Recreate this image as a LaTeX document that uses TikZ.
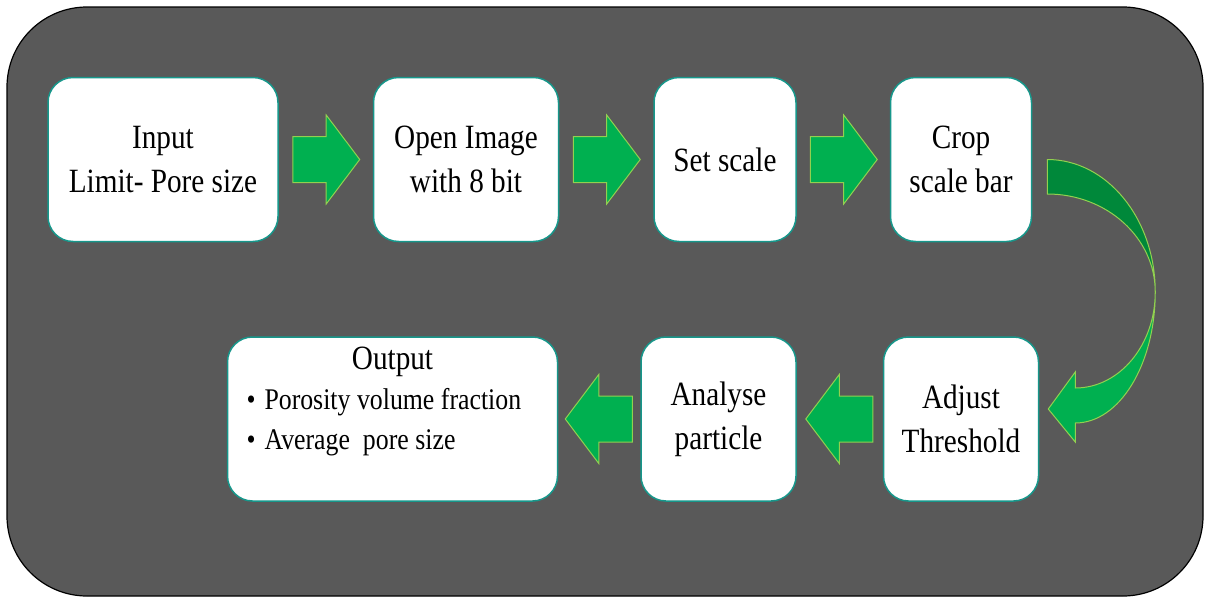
\documentclass[tikz,border=0pt]{standalone}
\usepackage{fontspec}
\setmainfont{Liberation Serif}[FakeStretch=0.86]
\usetikzlibrary{calc}
\usetikzlibrary{positioning}
\usetikzlibrary{shapes.arrows}
\definecolor{panelgray}{HTML}{595959}
\definecolor{boxteal}{HTML}{17978B}
\definecolor{arrowgreen}{HTML}{00B050}
\definecolor{arrowdark}{HTML}{00883A}
\definecolor{arrowedge}{HTML}{92D050}
\tikzstyle{stage} = [rectangle, rounded corners=25pt,
minimum height=164pt,
text centered,
align=center,
draw=boxteal, line width=1.5pt,
fill=white,
font=\fontsize{34pt}{44pt}\selectfont]
\tikzstyle{blockarrow} = [single arrow,
minimum height=67pt, inner xsep=0pt, inner ysep=22.5pt,
single arrow head extend=21.5pt,
single arrow tip angle=106,
fill=arrowgreen, draw=arrowedge, line width=1pt]

\begin{document}
\begin{tikzpicture}[x=1pt, y=-1pt, node distance=94pt]
            \useasboundingbox (0,0) rectangle (1205,597);
            \draw [fill=panelgray, draw=black, line width=1.2pt, rounded corners=80pt] (7,7) rectangle (1203,596);

            \node (input) [stage, minimum width=230pt] at (163,159.5) {Input\\Limit- Pore size};
            \node (open) [stage, minimum width=185pt, right=of input] {Open Image\\with 8 bit};
            \node (setscale) [stage, minimum width=142pt, right=of open] {Set scale};
            \node (crop) [stage, minimum width=141pt, right=93pt of setscale] {Crop\\scale bar};
            \node (thresh) [stage, minimum width=155pt, below=of crop] {Adjust\\Threshold};
            \node (analyse) [stage, minimum width=155pt, left=86pt of thresh] {Analyse\\particle};
            \node (output) [stage, minimum width=330pt, text width=300pt, align=left, text depth=122pt, left=82pt of analyse]
                {{\centering Output\par}
                 {\fontsize{30pt}{40pt}\selectfont\spaceskip=6.5pt\relax
                  \hspace*{4pt}\textbullet\hspace{9pt}Porosity volume fraction\\
                  \hspace*{4pt}\textbullet\hspace{9pt}Average\ \ pore size\par}};

            \node (a1) [blockarrow, anchor=tail] at ($(input.east)!0.5!(open.west)-(33.5,0)$) {};
            \node (a2) [blockarrow, anchor=tail] at ($(open.east)!0.5!(setscale.west)-(33.5,0)$) {};
            \node (a3) [blockarrow, anchor=tail] at ($(setscale.east)!0.5!(crop.west)-(33.5,0)$) {};
            \node (a4) [blockarrow, shape border rotate=180, anchor=tail] at ($(thresh.west)!0.5!(analyse.east)+(33.5,0)$) {};
            \node (a5) [blockarrow, shape border rotate=180, anchor=tail] at ($(analyse.west)!0.5!(output.east)+(33.5,0)$) {};

            % bent arrow from crop down to threshold
            \begin{scope}[shift={(crop.east)}]
                \path [fill=arrowdark, draw=arrowedge, line width=1pt]
                    (15,0) .. controls (74.6,0) and (123,59) .. (123,132.5)
                    .. controls (123,78.4) and (74.6,34.5) .. (15,34.5) -- cycle;
                \path [fill=arrowgreen, draw=arrowedge, line width=1pt]
                    (123,132.5) .. controls (123,205) and (87.2,263.5) .. (43,263.5)
                    -- (43,282.5) -- (16,249.5) -- (43,212.5) -- (43,228.5)
                    .. controls (87.2,228.5) and (123,185.5) .. (123,132.5) -- cycle;
            \end{scope}
\end{tikzpicture}
\end{document}
